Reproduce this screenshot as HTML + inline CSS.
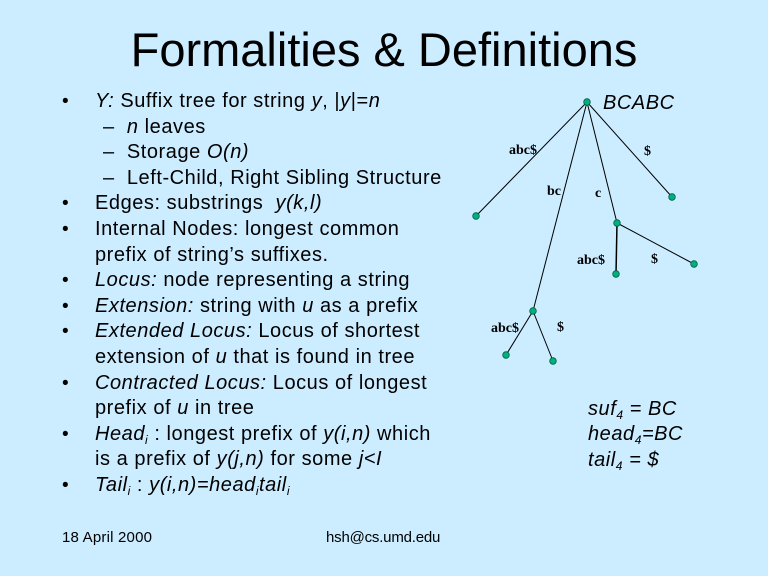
<!DOCTYPE html>
<html><head><meta charset="utf-8"><style>
html,body{margin:0;padding:0}
body{width:768px;height:576px;background:#ccecff;position:relative;overflow:hidden;font-family:"Liberation Sans",Arial,sans-serif;color:#000}
.t{position:absolute;left:0;width:768px;text-align:center;top:24px;font-size:47px;line-height:52px}
.l{position:absolute;font-size:20px;line-height:22px;white-space:nowrap;letter-spacing:0.55px}
.b{position:absolute;left:62px;font-size:19px;line-height:22px}
i{font-style:italic}
sub{font-size:12px;vertical-align:-4px;line-height:0}
.sm{position:absolute;font-size:15px;top:530px;line-height:16px;letter-spacing:0.2px}
</style></head><body>
<div class="t">Formalities &amp; Definitions</div>

<div class="b" style="top:91px">•</div><div class="l" style="left:95px;top:90px"><i>Y:</i> Suffix tree for string <i>y</i>, |<i>y</i>|=<i>n</i></div>
<div class="l" style="left:103px;top:116px">–&nbsp; <i>n</i> leaves</div>
<div class="l" style="left:103px;top:141px">–&nbsp; Storage <i>O(n)</i></div>
<div class="l" style="left:103px;top:167px">–&nbsp; Left-Child, Right Sibling Structure</div>
<div class="b" style="top:193px">•</div><div class="l" style="left:95px;top:192px">Edges: substrings&nbsp; <i>y(k,l)</i></div>
<div class="b" style="top:219px">•</div><div class="l" style="left:95px;top:218px">Internal Nodes: longest common</div>
<div class="l" style="left:95px;top:244px">prefix of string’s suffixes.</div>
<div class="b" style="top:270px">•</div><div class="l" style="left:95px;top:269px"><i>Locus:</i> node representing a string</div>
<div class="b" style="top:296px">•</div><div class="l" style="left:95px;top:295px"><i>Extension:</i> string with <i>u</i> as a prefix</div>
<div class="b" style="top:321px">•</div><div class="l" style="left:95px;top:320px"><i>Extended Locus:</i> Locus of shortest</div>
<div class="l" style="left:95px;top:346px">extension of <i>u</i> that is found in tree</div>
<div class="b" style="top:373px">•</div><div class="l" style="left:95px;top:372px"><i>Contracted Locus:</i> Locus of longest</div>
<div class="l" style="left:95px;top:397px">prefix of <i>u</i> in tree</div>
<div class="b" style="top:424px">•</div><div class="l" style="left:95px;top:423px"><i>Head<sub>i</sub></i> : longest prefix of <i>y(i,n)</i> which</div>
<div class="l" style="left:95px;top:448px">is a prefix of <i>y(j,n)</i> for some <i>j&lt;I</i></div>
<div class="b" style="top:475px">•</div><div class="l" style="left:95px;top:474px"><i>Tail<sub>i</sub></i> : <i>y(i,n)=head<sub>i</sub>tail<sub>i</sub></i></div>

<div class="sm" style="left:62px">18 April 2000</div>
<div class="sm" style="left:326px;letter-spacing:-0.2px">hsh@cs.umd.edu</div>

<div class="l" style="left:603px;top:92px"><i>BCABC</i></div>
<div class="l" style="left:588px;top:398px"><i>suf<sub>4</sub> = BC</i></div>
<div class="l" style="left:588px;top:423px"><i>head<sub>4</sub>=BC</i></div>
<div class="l" style="left:588px;top:449px"><i>tail<sub>4</sub> = $</i></div>

<svg width="768" height="576" style="position:absolute;left:0;top:0">
<g stroke="#000" stroke-width="1" fill="none">
<line x1="587" y1="102" x2="476" y2="216"/>
<line x1="587" y1="102" x2="672" y2="197"/>
<line x1="587" y1="102" x2="617" y2="223"/>
<line x1="587" y1="102" x2="533" y2="311"/>
<line x1="617" y1="223" x2="616" y2="274" stroke-width="1.5"/>
<line x1="617" y1="223" x2="694" y2="264"/>
<line x1="533" y1="311" x2="506" y2="355"/>
<line x1="533" y1="311" x2="553" y2="361"/>
</g>
<g fill="#00b080" stroke="#006040" stroke-width="0.8">
<circle cx="587" cy="102" r="3.3"/><circle cx="476" cy="216" r="3.3"/><circle cx="672" cy="197" r="3.3"/>
<circle cx="617" cy="223" r="3.3"/><circle cx="616" cy="274" r="3.3"/><circle cx="694" cy="264" r="3.3"/>
<circle cx="533" cy="311" r="3.3"/><circle cx="506" cy="355" r="3.3"/><circle cx="553" cy="361" r="3.3"/>
</g>
<g font-family="Liberation Serif,serif" font-weight="bold" font-size="14" fill="#000">
<text x="509" y="154">abc$</text>
<text x="644" y="155">$</text>
<text x="547" y="195">bc</text>
<text x="595" y="197">c</text>
<text x="577" y="264">abc$</text>
<text x="651" y="263">$</text>
<text x="491" y="332">abc$</text>
<text x="557" y="331">$</text>
</g>
</svg>
</body></html>
